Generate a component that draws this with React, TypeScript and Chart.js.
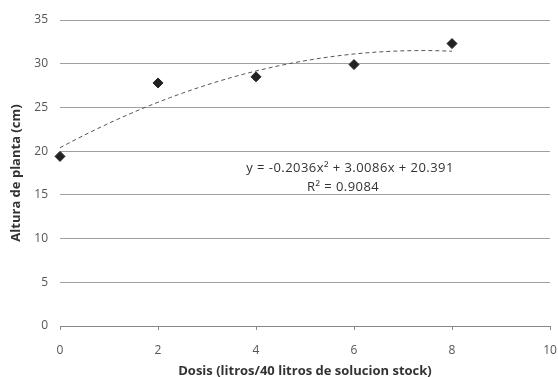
import React, { useEffect, useRef } from "react";
import { Chart, registerables } from "chart.js";

Chart.register(...registerables);

const dosis = [0, 2, 4, 6, 8];
const altura = [19.4, 27.8, 28.5, 29.9, 32.3];
const coefA = -0.2036;
const coefB = 3.0086;
const coefC = 20.391;
const equationText = "y = -0.2036x² + 3.0086x + 20.391";
const r2Text = "R² = 0.9084";
const xTitle = "Dosis (litros/40 litros de solucion stock)";
const yTitle = "Altura de planta (cm)";

const FONT = "'Open Sans', 'Liberation Sans', sans-serif";

const trendX: number[] = [];
for (let i = 0; i <= 32; i++) trendX.push(i * 0.25);
const trend = trendX.map((x) => ({ x, y: coefA * x * x + coefB * x + coefC }));

const eqPlugin = {
  id: "eqLabel",
  afterDatasetsDraw(chart: any) {
    const { ctx, scales } = chart;
    const xs = scales.x;
    const ys = scales.y;
    ctx.save();
    ctx.fillStyle = "#333";
    ctx.font = `13px ${FONT}`;
    try {
      (ctx as any).letterSpacing = "0.45px";
    } catch (e) {}
    ctx.textAlign = "center";
    ctx.textBaseline = "middle";
    const cx = xs.getPixelForValue(5.92);
    ctx.fillText(equationText, cx, ys.getPixelForValue(18.07));
    ctx.fillText(r2Text, cx - 7, ys.getPixelForValue(15.9));
    ctx.restore();
  },
};

export default function App() {
  const ref = useRef<HTMLCanvasElement>(null);
  useEffect(() => {
    if (!ref.current) return;
    const chart = new Chart(ref.current, {
      type: "scatter",
      data: {
        datasets: [
          {
            label: "Altura",
            data: dosis.map((x, i) => ({ x, y: altura[i] })),
            pointStyle: "rectRot",
            pointRadius: 5,
            backgroundColor: "#222",
            borderColor: "#222",
            borderWidth: 1,
            clip: false,
          } as any,
          {
            label: "Tendencia",
            type: "line",
            data: trend,
            borderColor: "#555",
            borderWidth: 1,
            borderDash: [4, 3],
            pointRadius: 0,
            fill: false,
            tension: 0,
          } as any,
        ],
      },
      options: {
        animation: false,
        responsive: true,
        maintainAspectRatio: false,
        layout: { padding: { top: 20, right: 8, left: 8, bottom: 0 } },
        plugins: {
          legend: { display: false },
          tooltip: { enabled: false },
        },
        scales: {
          x: {
            type: "linear",
            min: 0,
            max: 10,
            ticks: {
              stepSize: 2,
              color: "#555",
              font: { family: FONT, size: 12 },
              padding: 13,
            },
            grid: {
              drawOnChartArea: false,
              drawTicks: true,
              tickLength: 4,
              color: "#888",
            },
            border: { display: true, color: "#888", width: 1 },
            title: {
              display: true,
              text: xTitle,
              color: "#333",
              font: { family: FONT, size: 13, weight: "bold" },
              padding: { top: 0, bottom: -2 },
            },
            afterFit: (s: any) => {
              s.height = 51;
              s.paddingRight = 0;
              s.paddingLeft = 0;
            },
          },
          y: {
            min: 0,
            max: 35,
            ticks: {
              stepSize: 5,
              color: "#555",
              font: { family: FONT, size: 12 },
              padding: 12,
            },
            grid: {
              drawTicks: false,
              color: (c: any) => (c.tick && c.tick.value === 0 ? "rgba(0,0,0,0)" : "#a0a0a0"),
              lineWidth: 1,
            },
            border: { display: false },
            title: {
              display: true,
              text: yTitle,
              color: "#333",
              font: { family: FONT, size: 13, weight: "bold" },
              padding: { top: 0, bottom: 4 },
            },
            afterFit: (s: any) => {
              s.width = 52;
            },
          },
        },
      },
      plugins: [eqPlugin],
    });
    return () => chart.destroy();
  }, []);
  return (
    <div style={{ position: "fixed", left: 0, top: 0, width: 558, height: 377, background: "#fff" }}>
      <canvas ref={ref} />
    </div>
  );
}
